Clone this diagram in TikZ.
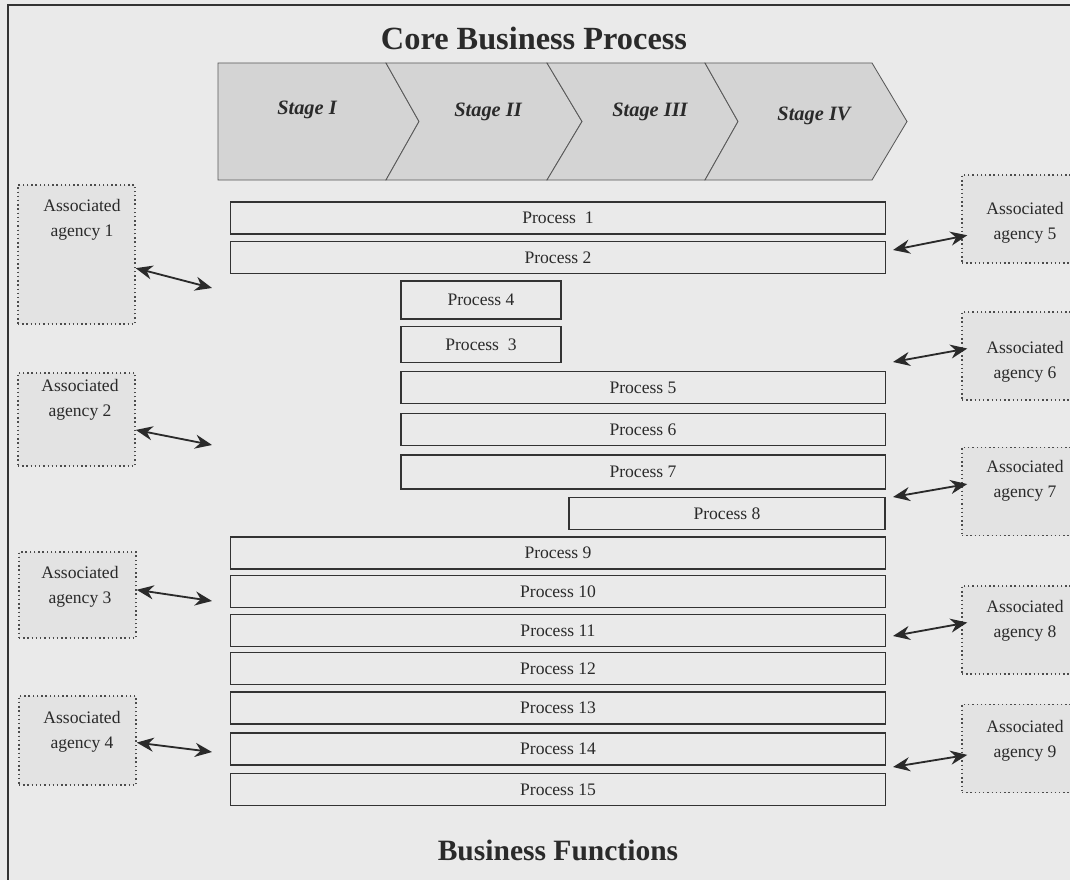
\documentclass[tikz,border=0pt]{standalone}
\usepackage{fontspec}
\setmainfont{Liberation Serif}
\usepackage{tikz}
\usetikzlibrary{arrows.meta}
\definecolor{paper}{HTML}{EAEAEA}
\definecolor{chevfill}{HTML}{D4D4D4}
\definecolor{agfill}{HTML}{E3E3E3}
\definecolor{ink}{HTML}{2A2A2A}
\tikzstyle{heading} = [draw=none, text=ink, font=\bfseries\fontsize{23}{27}\selectfont]
\tikzstyle{stage} = [draw=none, text=ink, font=\bfseries\itshape\fontsize{14.5}{17}\selectfont]
\tikzstyle{chevron} = [fill=chevfill, draw=gray!70!black, line width=0.6pt]
\tikzstyle{process} = [rectangle, minimum height=0.8cm, inner sep=0pt, text centered, draw=black!80, line width=0.8pt, text=ink, font=\fontsize{12.5}{15}\selectfont]
\tikzstyle{agency} = [rectangle, minimum width=2.925cm, inner sep=0pt, draw=gray!60!black, dotted, line width=1pt, fill=agfill]
\tikzstyle{agencytext} = [draw=none, align=center, text=ink, font=\fontsize{12.5}{17.5}\selectfont]
\tikzstyle{dblarrow} = [line width=1.3pt, draw=ink, {Stealth[length=12pt,width=10pt]}-{Stealth[length=12pt,width=10pt]}]

\begin{document}
\begin{tikzpicture}[x=0.025cm, y=-0.025cm]
		\fill [paper] (0,0) rectangle (1070,880);
		\useasboundingbox (0,0) rectangle (1070,880);
		\draw [gray!40!black, line width=1.1pt] (1070,5) -- (8,5) -- (8,880);

		\node (core) [heading] at (534,38) {Core Business Process};
		\node (functions) [heading, font=\bfseries\fontsize{21}{25}\selectfont] at (558,850) {Business Functions};

		\draw [chevron] (218,63) -- (386,63) -- (419,121.5) -- (386,180) -- (218,180) -- cycle;
		\draw [chevron] (386,63) -- (547,63) -- (582,121.5) -- (547,180) -- (386,180) -- (419,121.5) -- cycle;
		\draw [chevron] (547,63) -- (705,63) -- (738,121.5) -- (705,180) -- (547,180) -- (582,121.5) -- cycle;
		\draw [chevron] (705,63) -- (872,63) -- (907,121.5) -- (872,180) -- (705,180) -- (738,121.5) -- cycle;
		\node (s1) [stage] at (307,110) {Stage I};
		\node (s2) [stage] at (488,112) {Stage II};
		\node (s3) [stage] at (650,112) {Stage III};
		\node (s4) [stage] at (814,116) {Stage IV};

		\node (p1) [process, minimum width=16.35cm] at (558,218) {Process~ 1};
		\node (p2) [process, minimum width=16.35cm] at (558,257.5) {Process 2};
		\node (p4) [process, minimum width=4cm, minimum height=0.95cm] at (481,300) {Process 4};
		\node (p3) [process, minimum width=4cm, minimum height=0.88cm] at (481,344.5) {Process~ 3};
		\node (p5) [process, minimum width=12.1cm] at (643,387.5) {Process 5};
		\node (p6) [process, minimum width=12.1cm] at (643,429.5) {Process 6};
		\node (p7) [process, minimum width=12.1cm, minimum height=0.85cm] at (643,472) {Process 7};
		\node (p8) [process, minimum width=7.9cm] at (727,513.5) {Process 8};
		\node (p9) [process, minimum width=16.35cm] at (558,553) {Process 9};
		\node (p10) [process, minimum width=16.35cm] at (558,591.5) {Process 10};
		\node (p11) [process, minimum width=16.35cm] at (558,630.5) {Process 11};
		\node (p12) [process, minimum width=16.35cm] at (558,668.5) {Process 12};
		\node (p13) [process, minimum width=16.35cm] at (558,708) {Process 13};
		\node (p14) [process, minimum width=16.35cm] at (558,749) {Process 14};
		\node (p15) [process, minimum width=16.35cm] at (558,789.5) {Process 15};

		\node (a1) [agency, minimum height=3.475cm] at (76.5,254.5) {};
		\node (a2) [agency, minimum height=2.325cm] at (76.5,419.5) {};
		\node (a3) [agency, minimum height=2.15cm] at (77.5,595) {};
		\node (a4) [agency, minimum height=2.225cm] at (77.5,740.5) {};
		\node (a5) [agency, minimum width=3cm, minimum height=2.2cm] at (1022,219) {};
		\node (a6) [agency, minimum width=3cm, minimum height=2.2cm] at (1022,356) {};
		\node (a7) [agency, minimum width=3cm, minimum height=2.2cm] at (1022,491.5) {};
		\node (a8) [agency, minimum width=3cm, minimum height=2.2cm] at (1022,630) {};
		\node (a9) [agency, minimum width=3cm, minimum height=2.2cm] at (1022,748.5) {};

		\node (t1) [agencytext] at (82,219.5) {Associated\\agency 1};
		\node (t2) [agencytext] at (80,400) {Associated\\agency 2};
		\node (t3) [agencytext] at (80,587) {Associated\\agency 3};
		\node (t4) [agencytext] at (82,731.5) {Associated\\agency 4};
		\node (t5) [agencytext] at (1025,223) {Associated\\agency 5};
		\node (t6) [agencytext] at (1025,362) {Associated\\agency 6};
		\node (t7) [agencytext] at (1025,481) {Associated\\agency 7};
		\node (t8) [agencytext] at (1025,620.5) {Associated\\agency 8};
		\node (t9) [agencytext] at (1025,740.5) {Associated\\agency 9};

		\coordinate (e1) at (212,288);
		\coordinate (e2) at (212,445);
		\coordinate (e3) at (212,601);
		\coordinate (e4) at (212,752);
		\coordinate (e5) at (893,250);
		\coordinate (e6) at (893,362);
		\coordinate (e7) at (893,497);
		\coordinate (e8) at (893,636);
		\coordinate (e9) at (893,767);

		\draw [dblarrow] (a1.-13) -- (e1);
		\draw [dblarrow] (a2.-10) -- (e2);
		\draw [dblarrow] (a3.5) -- (e3);
		\draw [dblarrow] (a4.-2) -- (e4);
		\draw [dblarrow] ([xshift=6*0.025cm]a5.195) -- (e5);
		\draw [dblarrow] ([xshift=6*0.025cm]a6.173) -- (e6);
		\draw [dblarrow] ([xshift=6*0.025cm]a7.173) -- (e7);
		\draw [dblarrow] ([xshift=6*0.025cm]a8.173) -- (e8);
		\draw [dblarrow] ([xshift=6*0.025cm]a9.186) -- (e9);
\end{tikzpicture}
\end{document}
